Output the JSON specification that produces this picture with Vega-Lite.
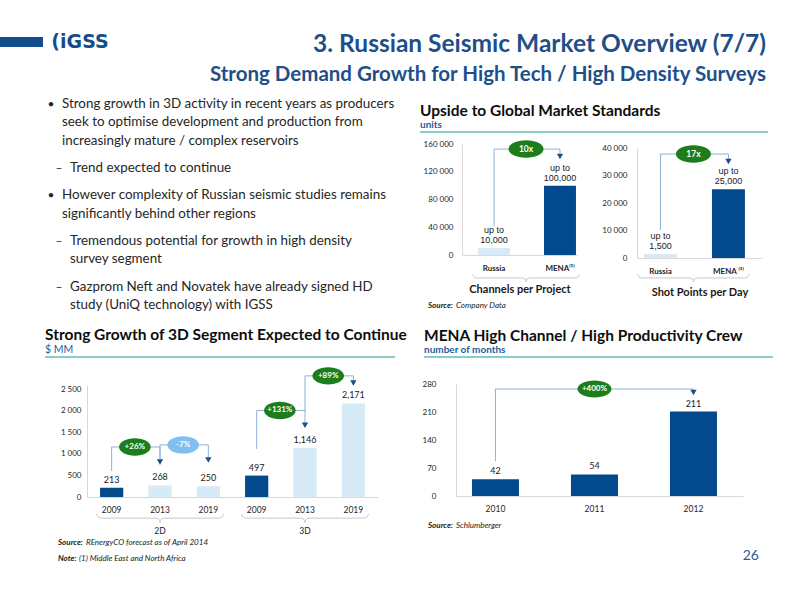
{
"$schema": "https://vega.github.io/schema/vega-lite/v6.json",
"background": "white",
"padding": 0,
"autosize": "pad",
"data": {"values": [{}]},
"config": {
  "font": "Lato",
  "view": {"stroke": null},
  "axis": {"grid": false, "ticks": false, "labelOverlap": false, "domainColor": "#d9d9d9", "labelColor": "#262626", "labelFontSize": 8, "labelFont": "Lato", "titleFont": "Lato"},
  "title": {"font": "Lato", "subtitleFont": "Lato"}
},
"resolve": {"scale": {"color": "independent", "fill": "independent"}},
"spacing": 0, "bounds": "flush",
"vconcat": [
  {"vconcat": [
    {"width": 1, "height": 37, "mark": {"type": "text", "text": ""}, "encoding": {}},
    {"hconcat": [
      {"width": 43, "height": 10, "view": {"fill": "#134d8d", "stroke": null}, "mark": {"type": "text", "text": ""}, "encoding": {}},
      {"width": 74, "height": 10, "mark": {"type": "text", "text": "(iGSS", "font": "DejaVu Sans", "fontWeight": "bold", "fontSize": 19, "color": "#134d8d", "align": "center", "baseline": "middle"}, "encoding": {}}
    ], "spacing": 0, "bounds": "flush"}
  ], "spacing": 0, "bounds": "flush"},

  {"vconcat": [
    {"width": 1, "height": 28, "mark": {"type": "text", "text": ""}, "encoding": {}},
    {"hconcat": [
      {"width": 117, "height": 1, "mark": {"type": "text", "text": ""}, "encoding": {}},
      {"width": 649, "height": 1, "mark": {"type": "text", "text": ""}, "encoding": {},
       "title": {"text": "3. Russian Seismic Market Overview (7/7)", "subtitle": "Strong Demand Growth for High Tech / High Density Surveys", "orient": "bottom", "anchor": "end", "offset": -1, "fontSize": 24.5, "fontWeight": "bold", "color": "#1e4f8a", "subtitleFontSize": 20.5, "subtitleFontWeight": "bold", "subtitleColor": "#1e4f8a", "subtitlePadding": 8}}
    ], "spacing": 0, "bounds": "flush"}
  ], "spacing": 0, "bounds": "flush"},

  {"vconcat": [
    {"width": 1, "height": 95, "mark": {"type": "text", "text": ""}, "encoding": {}},
    {"hconcat": [
      {"width": 45, "height": 1, "mark": {"type": "text", "text": ""}, "encoding": {}},
      {"width": 360, "height": 219,
       "data": {"values": [
         {"line": "a1", "level": "1", "marker": "•", "text": "Strong growth in 3D activity in recent years as producers"},
         {"line": "a2", "level": "1", "marker": "", "text": "seek to optimise development and production from"},
         {"line": "a3", "level": "1", "marker": "", "text": "increasingly mature / complex reservoirs"},
         {"line": "b1", "level": "2", "marker": "–", "text": "Trend expected to continue"},
         {"line": "c1", "level": "1", "marker": "•", "text": "However complexity of Russian seismic studies remains"},
         {"line": "c2", "level": "1", "marker": "", "text": "significantly behind other regions"},
         {"line": "d1", "level": "2", "marker": "–", "text": "Tremendous potential for growth in high density"},
         {"line": "d2", "level": "2", "marker": "", "text": "survey segment"},
         {"line": "e1", "level": "2", "marker": "–", "text": "Gazprom Neft and Novatek have already signed HD"},
         {"line": "e2", "level": "2", "marker": "", "text": "study (UniQ technology) with IGSS"}
       ]},
       "encoding": {"y": {"field": "line", "type": "nominal", "axis": null, "scale": {"type": "point", "padding": 1.19, "domain": ["a1","s1","a2","s2","a3","s3","s4","b1","s5","s6","c1","s7","c2","s8","s9","d1","s10","d2","s11","s12","e1","s13","e2"]}}},
       "layer": [
         {"mark": {"type": "text", "align": "center", "baseline": "middle", "fontSize": 12, "color": "#262626"},
          "encoding": {"x": {"field": "level", "type": "nominal", "axis": null, "scale": {"type": "point", "domain": ["1", "2"], "range": [2, 18]}}, "text": {"field": "marker"}}},
         {"mark": {"type": "text", "align": "left", "baseline": "middle", "fontSize": 13.4, "color": "#262626"},
          "encoding": {"x": {"field": "level", "type": "nominal", "axis": null, "scale": {"type": "point", "domain": ["1", "2"], "range": [13, 29]}}, "text": {"field": "text"}}}
       ],
       "resolve": {"scale": {"x": "independent"}}
      }
    ], "spacing": 0, "bounds": "flush"}
  ], "spacing": 0, "bounds": "flush"},

  {"vconcat": [
    {"width": 1, "height": 131, "mark": {"type": "text", "text": ""}, "encoding": {}},
    {"hconcat": [
      {"width": 420, "height": 1, "mark": {"type": "text", "text": ""}, "encoding": {}},
      {"width": 348, "height": 2, "view": {"fill": "#8ccbc6", "stroke": null}, "mark": {"type": "text", "text": ""}, "encoding": {},
       "title": {"text": "Upside to Global Market Standards", "subtitle": "units", "orient": "top", "anchor": "start", "offset": -4, "fontSize": 15.5, "fontWeight": "bold", "color": "#0d0d0d", "subtitleFontSize": 10, "subtitleFontWeight": "bold", "subtitleColor": "#1f5c99", "subtitlePadding": 1}}
    ], "spacing": 0, "bounds": "flush"}
  ], "spacing": 0, "bounds": "flush"},

  {"vconcat": [
    {"width": 1, "height": 144, "mark": {"type": "text", "text": ""}, "encoding": {}},
    {"hconcat": [
      {"width": 462, "height": 1, "mark": {"type": "text", "text": ""}, "encoding": {}},
      {"width": 115, "height": 111,
       "data": {"values": [{"region": "Russia", "v": 10000, "label": ["up to", "10,000"]}, {"region": "MENA", "v": 100000, "label": ["up to", "100,000"]}]},
       "layer": [
         {"mark": {"type": "bar"},
          "encoding": {
            "x": {"field": "region", "type": "nominal", "scale": {"domain": ["Russia", "MENA"], "paddingInner": 0.515, "paddingOuter": 0.13, "align": 0.94},
                  "axis": {"title": "Channels per Project", "labelAngle": 0, "labelFontWeight": "bold", "labelPadding": 9, "titlePadding": 11, "titleFontSize": 11, "titleFontWeight": "bold", "titleColor": "#1a1a1a", "labelExpr": "datum.label == 'MENA' ? 'MENA⁽¹⁾' : datum.label"}},
            "y": {"field": "v", "type": "quantitative", "scale": {"domain": [0, 160000]}, "axis": {"title": null, "values": [0, 40000, 80000, 120000, 160000], "tickCount": 10, "labelPadding": 9, "labelExpr": "replace(format(datum.value, ','), ',', ' ')"}},
            "color": {"field": "region", "type": "nominal", "scale": {"domain": ["Russia", "MENA"], "range": ["#d6eaf7", "#034a8d"]}, "legend": null}}},
         {"mark": {"type": "text", "baseline": "bottom", "dy": -13, "fontSize": 9, "font": "Liberation Sans", "color": "#1a1a1a", "lineHeight": 10},
          "encoding": {"x": {"field": "region", "type": "nominal"}, "y": {"field": "v", "type": "quantitative"}, "text": {"field": "label"}}},
         {"data": {"values": [{"region": "Russia", "v": 41800, "s": 1}, {"region": "Russia", "v": 152700, "s": 2}, {"region": "MENA", "v": 152700, "s": 3}, {"region": "MENA", "v": 142000, "s": 4}]},
          "mark": {"type": "line", "color": "#8fb1d3", "strokeWidth": 1},
          "encoding": {"x": {"field": "region", "type": "nominal"}, "y": {"field": "v", "type": "quantitative"}, "order": {"field": "s"}}},
         {"data": {"values": [{"region": "MENA", "v": 142000}]},
          "mark": {"type": "point", "shape": "triangle-down", "filled": true, "size": 40, "color": "#1e4f8a", "opacity": 1},
          "encoding": {"x": {"field": "region", "type": "nominal"}, "y": {"field": "v", "type": "quantitative"}}},
         {"data": {"values": [{"region": "Russia", "v": -33150}]},
          "mark": {"type": "point", "shape": "M-1,-0.07Q-1,0,-0.92,0L-0.08,0Q0,0,0,0.07Q0,0,0.08,0L0.92,0Q1,0,1,-0.07", "filled": false, "size": 11236, "color": "#c8c8c8", "strokeWidth": 1, "opacity": 1},
          "encoding": {"x": {"field": "region", "type": "nominal", "bandPosition": 1.5}, "y": {"field": "v", "type": "quantitative"}}},
         {"data": {"values": [{"region": "Russia", "v": 152700, "tag": "10x"}]},
          "mark": {"type": "point", "shape": "M-1,0A1,0.5,0,1,0,1,0A1,0.5,0,1,0,-1,0Z", "filled": true, "size": 1225, "color": "#1b7d1b", "opacity": 1},
          "encoding": {"x": {"field": "region", "type": "nominal", "bandPosition": 1.5}, "y": {"field": "v", "type": "quantitative"}}},
         {"data": {"values": [{"region": "Russia", "v": 152700, "tag": "10x"}]},
          "mark": {"type": "text", "baseline": "middle", "fontSize": 8.5, "fontWeight": "bold", "color": "white"},
          "encoding": {"x": {"field": "region", "type": "nominal", "bandPosition": 1.5}, "y": {"field": "v", "type": "quantitative"}, "text": {"field": "tag"}}}
       ]}
    ], "spacing": 0, "bounds": "flush"}
  ], "spacing": 0, "bounds": "flush"},

  {"vconcat": [
    {"width": 1, "height": 148, "mark": {"type": "text", "text": ""}, "encoding": {}},
    {"hconcat": [
      {"width": 637, "height": 1, "mark": {"type": "text", "text": ""}, "encoding": {}},
      {"width": 125, "height": 110,
       "data": {"values": [{"region": "Russia", "v": 1500, "label": ["up to", "1,500"]}, {"region": "MENA", "v": 25000, "label": ["up to", "25,000"]}]},
       "layer": [
         {"mark": {"type": "bar"},
          "encoding": {
            "x": {"field": "region", "type": "nominal", "scale": {"domain": ["Russia", "MENA"], "paddingInner": 0.515, "paddingOuter": 0.177, "align": 0.29},
                  "axis": {"title": "Shot Points per Day", "labelAngle": 0, "labelFontWeight": "bold", "labelPadding": 9, "titlePadding": 11, "titleFontSize": 11, "titleFontWeight": "bold", "titleColor": "#1a1a1a", "labelExpr": "datum.label == 'MENA' ? 'MENA   ⁽¹⁾' : datum.label"}},
            "y": {"field": "v", "type": "quantitative", "scale": {"domain": [0, 40000]}, "axis": {"title": null, "values": [0, 10000, 20000, 30000, 40000], "tickCount": 10, "labelPadding": 10, "labelExpr": "replace(format(datum.value, ','), ',', ' ')"}},
            "color": {"field": "region", "type": "nominal", "scale": {"domain": ["Russia", "MENA"], "range": ["#d6eaf7", "#034a8d"]}, "legend": null}}},
         {"mark": {"type": "text", "baseline": "bottom", "dy": -13, "fontSize": 9, "font": "Liberation Sans", "color": "#1a1a1a", "lineHeight": 10},
          "encoding": {"x": {"field": "region", "type": "nominal"}, "y": {"field": "v", "type": "quantitative"}, "text": {"field": "label"}}},
         {"data": {"values": [{"region": "Russia", "v": 10180, "s": 1}, {"region": "Russia", "v": 37800, "s": 2}, {"region": "MENA", "v": 37800, "s": 3}, {"region": "MENA", "v": 35100, "s": 4}]},
          "mark": {"type": "line", "color": "#8fb1d3", "strokeWidth": 1},
          "encoding": {"x": {"field": "region", "type": "nominal"}, "y": {"field": "v", "type": "quantitative"}, "order": {"field": "s"}}},
         {"data": {"values": [{"region": "MENA", "v": 35100}]},
          "mark": {"type": "point", "shape": "triangle-down", "filled": true, "size": 40, "color": "#1e4f8a", "opacity": 1},
          "encoding": {"x": {"field": "region", "type": "nominal"}, "y": {"field": "v", "type": "quantitative"}}},
         {"data": {"values": [{"region": "Russia", "v": -7270}]},
          "mark": {"type": "point", "shape": "M-1,-0.07Q-1,0,-0.92,0L-0.08,0Q0,0,0,0.07Q0,0,0.08,0L0.92,0Q1,0,1,-0.07", "filled": false, "size": 12321, "color": "#c8c8c8", "strokeWidth": 1, "opacity": 1},
          "encoding": {"x": {"field": "region", "type": "nominal", "bandPosition": 1.5}, "y": {"field": "v", "type": "quantitative"}}},
         {"data": {"values": [{"region": "Russia", "v": 37800, "tag": "17x"}]},
          "mark": {"type": "point", "shape": "M-1,0A1,0.5,0,1,0,1,0A1,0.5,0,1,0,-1,0Z", "filled": true, "size": 1225, "color": "#1b7d1b", "opacity": 1},
          "encoding": {"x": {"field": "region", "type": "nominal", "bandPosition": 1.5}, "y": {"field": "v", "type": "quantitative"}}},
         {"data": {"values": [{"region": "Russia", "v": 37800, "tag": "17x"}]},
          "mark": {"type": "text", "baseline": "middle", "fontSize": 8.5, "fontWeight": "bold", "color": "white"},
          "encoding": {"x": {"field": "region", "type": "nominal", "bandPosition": 1.5}, "y": {"field": "v", "type": "quantitative"}, "text": {"field": "tag"}}}
       ]}
    ], "spacing": 0, "bounds": "flush"}
  ], "spacing": 0, "bounds": "flush"},

  {"vconcat": [
    {"width": 1, "height": 296, "mark": {"type": "text", "text": ""}, "encoding": {}},
    {"hconcat": [
      {"width": 428, "height": 1, "mark": {"type": "text", "text": ""}, "encoding": {}},
      {"width": 28, "height": 1, "mark": {"type": "text", "text": ""}, "encoding": {},
       "title": {"text": "Source:", "orient": "bottom", "anchor": "start", "offset": 0, "fontSize": 8, "fontStyle": "italic", "fontWeight": "bold", "color": "#1a1a1a"}},
      {"width": 200, "height": 1, "mark": {"type": "text", "text": ""}, "encoding": {},
       "title": {"text": "Company Data", "orient": "bottom", "anchor": "start", "offset": 0, "fontSize": 8, "fontStyle": "italic", "fontWeight": "normal", "color": "#1a1a1a"}}
    ], "spacing": 0, "bounds": "flush"}
  ], "spacing": 0, "bounds": "flush"},

  {"vconcat": [
    {"width": 1, "height": 356, "mark": {"type": "text", "text": ""}, "encoding": {}},
    {"hconcat": [
      {"width": 45, "height": 1, "mark": {"type": "text", "text": ""}, "encoding": {}},
      {"width": 350, "height": 2, "view": {"fill": "#8ccbc6", "stroke": null}, "mark": {"type": "text", "text": ""}, "encoding": {},
       "title": {"text": "Strong Growth of 3D Segment  Expected to Continue", "subtitle": "$ MM", "orient": "top", "anchor": "start", "offset": -4, "fontSize": 15.5, "fontWeight": "bold", "color": "#0d0d0d", "subtitleFontSize": 10.5, "subtitleFontWeight": "normal", "subtitleColor": "#1f5c99", "subtitlePadding": 1}}
    ], "spacing": 0, "bounds": "flush"}
  ], "spacing": 0, "bounds": "flush"},

  {"vconcat": [
    {"width": 1, "height": 356, "mark": {"type": "text", "text": ""}, "encoding": {}},
    {"hconcat": [
      {"width": 424, "height": 1, "mark": {"type": "text", "text": ""}, "encoding": {}},
      {"width": 349, "height": 2, "view": {"fill": "#8ccbc6", "stroke": null}, "mark": {"type": "text", "text": ""}, "encoding": {},
       "title": {"text": "MENA High Channel / High Productivity Crew", "subtitle": "number of months", "orient": "top", "anchor": "start", "offset": -4, "fontSize": 15.5, "fontWeight": "bold", "color": "#0d0d0d", "subtitleFontSize": 10, "subtitleFontWeight": "bold", "subtitleColor": "#1f5c99", "subtitlePadding": 1}}
    ], "spacing": 0, "bounds": "flush"}
  ], "spacing": 0, "bounds": "flush"},

  {"vconcat": [
    {"width": 1, "height": 385, "mark": {"type": "text", "text": ""}, "encoding": {}},
    {"hconcat": [
      {"width": 87, "height": 1, "mark": {"type": "text", "text": ""}, "encoding": {}},
      {"width": 291, "height": 112,
       "data": {"values": [
         {"key": "2D 2009", "seg": "2D", "kind": "base", "v": 213},
         {"key": "2D 2013", "seg": "2D", "kind": "later", "v": 268},
         {"key": "2D 2019", "seg": "2D", "kind": "later", "v": 250},
         {"key": "3D 2009", "seg": "3D", "kind": "base", "v": 497},
         {"key": "3D 2013", "seg": "3D", "kind": "later", "v": 1146},
         {"key": "3D 2019", "seg": "3D", "kind": "later", "v": 2171}
       ]},
       "layer": [
         {"mark": {"type": "bar"},
          "encoding": {
            "x": {"field": "key", "type": "nominal", "scale": {"domain": ["2D 2009", "2D 2013", "2D 2019", "3D 2009", "3D 2013", "3D 2019"], "paddingInner": 0.52, "paddingOuter": 0.27},
                  "axis": {"title": null, "labelAngle": 0, "labelPadding": 8, "labelFontSize": 8.5, "labelExpr": "split(datum.label, ' ')[1]"}},
            "y": {"field": "v", "type": "quantitative", "scale": {"domain": [0, 2500]}, "axis": {"title": null, "values": [0, 500, 1000, 1500, 2000, 2500], "tickCount": 10, "labelPadding": 6, "labelExpr": "replace(format(datum.value, ','), ',', ' ')"}},
            "color": {"field": "kind", "type": "nominal", "scale": {"domain": ["base", "later"], "range": ["#034a8d", "#d6eaf7"]}, "legend": null}}},
         {"mark": {"type": "text", "baseline": "bottom", "dy": -3, "fontSize": 9, "color": "#1a1a1a"},
          "encoding": {"x": {"field": "key", "type": "nominal"}, "y": {"field": "v", "type": "quantitative"}, "text": {"field": "v", "format": ","}}},
         {"data": {"values": [{"key": "2D 2013", "seg": "2D"}, {"key": "3D 2013", "seg": "3D"}]},
          "mark": {"type": "text", "baseline": "middle", "dy": 34, "fontSize": 8.5, "color": "#1a1a1a"},
          "encoding": {"x": {"field": "key", "type": "nominal"}, "y": {"datum": 0}, "text": {"field": "seg"}}},
         {"data": {"values": [{"key": "2D 2013", "v": -491}, {"key": "3D 2013", "v": -491}]},
          "mark": {"type": "point", "shape": "M-1,-0.07Q-1,0,-0.92,0L-0.08,0Q0,0,0,0.07Q0,0,0.08,0L0.92,0Q1,0,1,-0.07", "filled": false, "size": 16000, "color": "#c8c8c8", "strokeWidth": 1, "opacity": 1},
          "encoding": {"x": {"field": "key", "type": "nominal"}, "y": {"field": "v", "type": "quantitative"}}},
         {"data": {"values": [
            {"id": "a", "key": "2D 2009", "v": 603, "s": 1}, {"id": "a", "key": "2D 2009", "v": 1161, "s": 2}, {"id": "a", "key": "2D 2013", "v": 1161, "s": 3}, {"id": "a", "key": "2D 2013", "v": 815, "s": 4},
            {"id": "b", "key": "2D 2013", "v": 759, "s": 1}, {"id": "b", "key": "2D 2013", "v": 1210, "s": 2}, {"id": "b", "key": "2D 2019", "v": 1210, "s": 3}, {"id": "b", "key": "2D 2019", "v": 859, "s": 4},
            {"id": "c", "key": "3D 2009", "v": 1116, "s": 1}, {"id": "c", "key": "3D 2009", "v": 2009, "s": 2}, {"id": "c", "key": "3D 2013", "v": 2009, "s": 3}, {"id": "c", "key": "3D 2013", "v": 1663, "s": 4},
            {"id": "d", "key": "3D 2013", "v": 1987, "s": 1}, {"id": "d", "key": "3D 2013", "v": 2812, "s": 2}, {"id": "d", "key": "3D 2019", "v": 2812, "s": 3}, {"id": "d", "key": "3D 2019", "v": 2645, "s": 4}
          ]},
          "mark": {"type": "line", "color": "#8fb1d3", "strokeWidth": 1},
          "encoding": {"x": {"field": "key", "type": "nominal"}, "y": {"field": "v", "type": "quantitative"}, "detail": {"field": "id"}, "order": {"field": "s"}}},
         {"data": {"values": [{"key": "2D 2013", "v": 815}, {"key": "2D 2019", "v": 859}, {"key": "3D 2013", "v": 1663}, {"key": "3D 2019", "v": 2645}]},
          "mark": {"type": "point", "shape": "triangle-down", "filled": true, "size": 40, "color": "#1e4f8a", "opacity": 1},
          "encoding": {"x": {"field": "key", "type": "nominal"}, "y": {"field": "v", "type": "quantitative"}}},
         {"data": {"values": [{"key": "2D 2009", "v": 1161, "tag": "+26%", "dir": "up"}, {"key": "2D 2013", "v": 1210, "tag": "-7%", "dir": "down"}, {"key": "3D 2009", "v": 2009, "tag": "+131%", "dir": "up"}, {"key": "3D 2013", "v": 2812, "tag": "+89%", "dir": "up"}]},
          "mark": {"type": "point", "shape": "M-1,0A1,0.55,0,1,0,1,0A1,0.55,0,1,0,-1,0Z", "filled": true, "size": 1000, "opacity": 1},
          "encoding": {"x": {"field": "key", "type": "nominal", "bandPosition": 1.5}, "y": {"field": "v", "type": "quantitative"},
                       "fill": {"field": "dir", "type": "nominal", "scale": {"domain": ["up", "down"], "range": ["#1b7d1b", "#80bff0"]}, "legend": null}}},
         {"data": {"values": [{"key": "2D 2009", "v": 1161, "tag": "+26%"}, {"key": "2D 2013", "v": 1210, "tag": "-7%"}, {"key": "3D 2009", "v": 2009, "tag": "+131%"}, {"key": "3D 2013", "v": 2812, "tag": "+89%"}]},
          "mark": {"type": "text", "baseline": "middle", "fontSize": 8, "fontWeight": "bold", "color": "white"},
          "encoding": {"x": {"field": "key", "type": "nominal", "bandPosition": 1.5}, "y": {"field": "v", "type": "quantitative"}, "text": {"field": "tag"}}}
       ]}
    ], "spacing": 0, "bounds": "flush"}
  ], "spacing": 0, "bounds": "flush"},

  {"vconcat": [
    {"width": 1, "height": 384, "mark": {"type": "text", "text": ""}, "encoding": {}},
    {"hconcat": [
      {"width": 456, "height": 1, "mark": {"type": "text", "text": ""}, "encoding": {}},
      {"width": 287, "height": 112,
       "data": {"values": [{"year": "2010", "v": 42}, {"year": "2011", "v": 54}, {"year": "2012", "v": 211}]},
       "layer": [
         {"mark": {"type": "bar", "color": "#034a8d"},
          "encoding": {
            "x": {"field": "year", "type": "nominal", "scale": {"domain": ["2010", "2011", "2012"], "paddingInner": 0.525, "paddingOuter": 0.212, "align": 0.38},
                  "axis": {"title": null, "labelAngle": 0, "labelPadding": 8, "labelFontSize": 8.5}},
            "y": {"field": "v", "type": "quantitative", "scale": {"domain": [0, 280]}, "axis": {"title": null, "values": [0, 70, 140, 210, 280], "tickCount": 10, "labelPadding": 20}}}},
         {"mark": {"type": "text", "baseline": "bottom", "dy": -3, "fontSize": 9, "color": "#1a1a1a"},
          "encoding": {"x": {"field": "year", "type": "nominal"}, "y": {"field": "v", "type": "quantitative"}, "text": {"field": "v"}}},
         {"data": {"values": [{"year": "2010", "v": 87.5, "s": 1}, {"year": "2010", "v": 267.5, "s": 2}, {"year": "2012", "v": 267.5, "s": 3}, {"year": "2012", "v": 258.7, "s": 4}]},
          "mark": {"type": "line", "color": "#8fb1d3", "strokeWidth": 1},
          "encoding": {"x": {"field": "year", "type": "nominal"}, "y": {"field": "v", "type": "quantitative"}, "order": {"field": "s"}}},
         {"data": {"values": [{"year": "2012", "v": 258.7}]},
          "mark": {"type": "point", "shape": "triangle-down", "filled": true, "size": 40, "color": "#1e4f8a", "opacity": 1},
          "encoding": {"x": {"field": "year", "type": "nominal"}, "y": {"field": "v", "type": "quantitative"}}},
         {"data": {"values": [{"year": "2011", "v": 267.5, "tag": "+400%"}]},
          "mark": {"type": "point", "shape": "M-1,0A1,0.5,0,1,0,1,0A1,0.5,0,1,0,-1,0Z", "filled": true, "size": 1156, "color": "#1b7d1b", "opacity": 1},
          "encoding": {"x": {"field": "year", "type": "nominal"}, "y": {"field": "v", "type": "quantitative"}}},
         {"data": {"values": [{"year": "2011", "v": 267.5, "tag": "+400%"}]},
          "mark": {"type": "text", "baseline": "middle", "fontSize": 8, "fontWeight": "bold", "color": "white"},
          "encoding": {"x": {"field": "year", "type": "nominal"}, "y": {"field": "v", "type": "quantitative"}, "text": {"field": "tag"}}}
       ]}
    ], "spacing": 0, "bounds": "flush"}
  ], "spacing": 0, "bounds": "flush"},

  {"vconcat": [
    {"width": 1, "height": 533, "mark": {"type": "text", "text": ""}, "encoding": {}},
    {"hconcat": [
      {"width": 58, "height": 1, "mark": {"type": "text", "text": ""}, "encoding": {}},
      {"width": 28, "height": 1, "mark": {"type": "text", "text": ""}, "encoding": {},
       "title": {"text": "Source:", "orient": "bottom", "anchor": "start", "offset": 0, "fontSize": 8, "fontStyle": "italic", "fontWeight": "bold", "color": "#1a1a1a"}},
      {"width": 250, "height": 1, "mark": {"type": "text", "text": ""}, "encoding": {},
       "title": {"text": "REnergyCO forecast as of April 2014", "orient": "bottom", "anchor": "start", "offset": 0, "fontSize": 8, "fontStyle": "italic", "fontWeight": "normal", "color": "#1a1a1a"}}
    ], "spacing": 0, "bounds": "flush"}
  ], "spacing": 0, "bounds": "flush"},

  {"vconcat": [
    {"width": 1, "height": 548.5, "mark": {"type": "text", "text": ""}, "encoding": {}},
    {"hconcat": [
      {"width": 58, "height": 1, "mark": {"type": "text", "text": ""}, "encoding": {}},
      {"width": 21, "height": 1, "mark": {"type": "text", "text": ""}, "encoding": {},
       "title": {"text": "Note:", "orient": "bottom", "anchor": "start", "offset": 0, "fontSize": 8, "fontStyle": "italic", "fontWeight": "bold", "color": "#1a1a1a"}},
      {"width": 250, "height": 1, "mark": {"type": "text", "text": ""}, "encoding": {},
       "title": {"text": "(1) Middle East and North Africa", "orient": "bottom", "anchor": "start", "offset": 0, "fontSize": 8, "fontStyle": "italic", "fontWeight": "normal", "color": "#1a1a1a"}}
    ], "spacing": 0, "bounds": "flush"}
  ], "spacing": 0, "bounds": "flush"},

  {"vconcat": [
    {"width": 1, "height": 516, "mark": {"type": "text", "text": ""}, "encoding": {}},
    {"hconcat": [
      {"width": 428, "height": 1, "mark": {"type": "text", "text": ""}, "encoding": {}},
      {"width": 28, "height": 1, "mark": {"type": "text", "text": ""}, "encoding": {},
       "title": {"text": "Source:", "orient": "bottom", "anchor": "start", "offset": 0, "fontSize": 8, "fontStyle": "italic", "fontWeight": "bold", "color": "#1a1a1a"}},
      {"width": 200, "height": 1, "mark": {"type": "text", "text": ""}, "encoding": {},
       "title": {"text": "Schlumberger", "orient": "bottom", "anchor": "start", "offset": 0, "fontSize": 8, "fontStyle": "italic", "fontWeight": "normal", "color": "#1a1a1a"}}
    ], "spacing": 0, "bounds": "flush"}
  ], "spacing": 0, "bounds": "flush"},

  {"vconcat": [
    {"width": 1, "height": 543, "mark": {"type": "text", "text": ""}, "encoding": {}},
    {"hconcat": [
      {"width": 424, "height": 1, "mark": {"type": "text", "text": ""}, "encoding": {}},
      {"width": 335, "height": 1, "mark": {"type": "text", "text": ""}, "encoding": {},
       "title": {"text": "26", "orient": "bottom", "anchor": "end", "offset": 0, "fontSize": 14, "fontWeight": "normal", "color": "#1f5c99"}}
    ], "spacing": 0, "bounds": "flush"}
  ], "spacing": 0, "bounds": "flush"}
]
}
